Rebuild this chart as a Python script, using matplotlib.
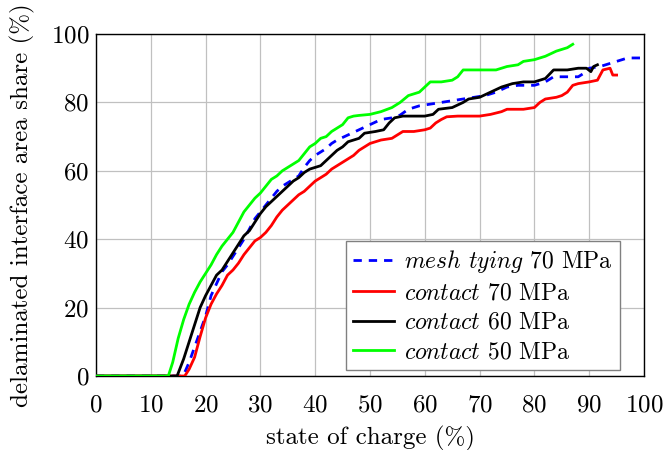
import matplotlib
matplotlib.use("Agg")
import matplotlib.pyplot as plt

plt.rcParams['font.family'] = 'cmr10'
plt.rcParams['mathtext.fontset'] = 'cm'
plt.rcParams['axes.formatter.use_mathtext'] = True
plt.rcParams['font.size'] = 18

# mesh tying, 70 MPa
soc_mesh70 = [0, 15.9, 17, 18, 19, 20, 21, 22, 23, 24, 25, 26, 27, 28, 29, 30, 31, 32, 33, 34, 35,
              36, 37, 38, 39, 40, 41, 42, 43, 44, 46, 48, 50, 52, 54, 55.5, 57, 59, 61, 63, 65,
              67, 69, 71, 73, 75, 77, 80, 82, 83.5, 86, 88, 89, 90, 92, 94, 96, 97, 100]
share_mesh70 = [0, 0, 4, 8.5, 13, 17.5, 23.5, 27, 30.5, 32.5, 35, 37.5, 40, 43, 46, 48, 50, 52, 54, 55.5, 56.5,
                57.5, 58.5, 61, 63, 64.5, 65.5, 66.5, 68, 69, 70.5, 72, 73.5, 75, 75.5, 76.3, 78, 79, 79.5, 80, 80.5,
                81, 81.5, 82, 83, 84.5, 85, 85, 86, 87.5, 87.5, 87.5, 88.5, 90, 90.5, 91.5, 92.5, 93, 93]

# contact, 70 MPa
soc_c70 = [0, 16.2, 17, 18, 19, 20, 21, 22, 23, 24, 25, 26, 27, 28, 29, 30, 31, 32, 33, 34, 35, 36,
           37, 38, 39, 40, 41, 42, 43, 44, 45, 46, 47, 48, 49, 50, 51, 52, 54, 55, 56, 58, 60, 61,
           62, 63, 64, 66, 70, 72, 74, 75, 78, 80, 81, 82, 84, 85, 86, 87, 88, 90, 91.5, 92.5,
           93.8, 94.3, 95]
share_c70 = [0, 0, 2, 5.5, 11.5, 17, 21, 24, 26.5, 29.5, 31, 33, 35.5, 37.5, 39.5, 40.5, 42, 44, 46.5, 48.5, 50, 51.5,
             53, 54, 55.5, 57, 58, 59, 60.5, 61.5, 62.5, 63.5, 64.5, 66, 67, 68, 68.5, 69, 69.5, 70.5, 71.5, 71.5, 72, 72.5,
             74, 75, 75.8, 76, 76, 76.5, 77.3, 78, 78, 78.5, 80, 81, 81.5, 82, 83, 85, 85.5, 86, 86.5, 89.5,
             90, 88, 88]

# contact, 60 MPa
soc_c60 = [0, 14.8, 16, 17, 18, 19, 20, 21, 22, 23, 24, 25, 26, 27, 28, 29, 30, 31, 32, 33, 34, 35,
           36, 37, 38, 39, 41, 42, 43, 44, 45, 46, 48, 49, 51, 52.5, 53.5, 54.5, 56, 60, 61.5,
           62.5, 65, 67, 68, 70, 72, 74, 76, 78, 80, 82, 83.5, 86, 88, 89.5, 90.3, 90.8, 91.5]
share_c60 = [0, 0, 5, 10, 15, 20, 23.5, 26.5, 29.5, 31, 33.5, 36, 38.5, 41, 42.5, 45, 47.5, 49.5, 51, 52.5, 54, 55.5,
             57, 58, 59.5, 60.5, 61.5, 63, 64.5, 66, 67, 68.5, 69.5, 71, 71.5, 72, 74, 75.5, 76, 76, 76.5,
             78, 78.5, 80, 81, 81.5, 83, 84.5, 85.5, 86, 86, 87, 89.5, 89.5, 90, 90, 89, 90.5, 91]

# contact, 50 MPa
soc_c50 = [0, 13.2, 14, 15, 16, 17, 18, 19, 20, 21, 22, 23, 24, 25, 26, 27, 28, 29, 30, 31, 32, 33,
           34, 35, 36, 37, 38, 39, 40, 41, 42, 43, 44, 45, 46, 47, 48, 50, 52, 54, 55.5, 57, 59,
           60, 61, 63, 65, 66, 67, 70, 73, 75, 77, 78, 80, 82, 84, 86, 87]
share_c50 = [0, 0, 4, 11, 16.5, 21, 24.5, 27.5, 30, 32.5, 35.5, 38, 40, 42, 45, 48, 50, 52, 53.5, 55.5, 57.5, 58.5,
             60, 61, 62, 63, 65, 67, 68, 69.5, 70, 71.5, 72.5, 73.5, 75.5, 76, 76.2, 76.5, 77.3, 78.5, 80, 82, 83,
             84.5, 86, 86, 86.5, 87.5, 89.5, 89.5, 89.5, 90.5, 91, 92, 92.5, 93.5, 95, 96, 97]

fig = plt.figure(figsize=(6.66, 4.5), dpi=100)
ax = fig.add_axes([0.1441, 0.1644, 0.8229, 0.76])

ax.plot(soc_mesh70, share_mesh70, color='blue', lw=2, dashes=(3, 2.5),
        label=r'$\mathit{mesh}$ $\mathit{tying}$ 70 MPa', zorder=3)
ax.plot(soc_c70, share_c70, color='red', lw=2, label=r'$\mathit{contact}$ 70 MPa', zorder=3)
ax.plot(soc_c60, share_c60, color='black', lw=2, label=r'$\mathit{contact}$ 60 MPa', zorder=3)
ax.plot(soc_c50, share_c50, color='#00ff00', lw=2, label=r'$\mathit{contact}$ 50 MPa', zorder=3)

ax.set_xlim(0, 100)
ax.set_ylim(0, 100)
ax.set_xticks(range(0, 101, 10))
ax.set_yticks(range(0, 101, 20))
ax.grid(True, color='#c0c0c0', lw=0.9)
ax.set_axisbelow(True)
ax.tick_params(direction='in', length=0)
ax.tick_params(axis='x', pad=13)
ax.tick_params(axis='y', pad=5)
for s in ax.spines.values():
    s.set_linewidth(1.0)

ax.set_xlabel('state of charge (%)', labelpad=7)
ax.set_ylabel('delaminated interface area share (%)', labelpad=11)

leg = ax.legend(loc='lower right', bbox_to_anchor=(0.956, 0.017), borderaxespad=0,
                fancybox=False, framealpha=1, edgecolor='#808080', fontsize=17,
                handlelength=1.7, labelspacing=0.3, borderpad=0.3, handletextpad=0.45)
leg.get_frame().set_linewidth(1.0)

fig.savefig('out.png', dpi=100)
